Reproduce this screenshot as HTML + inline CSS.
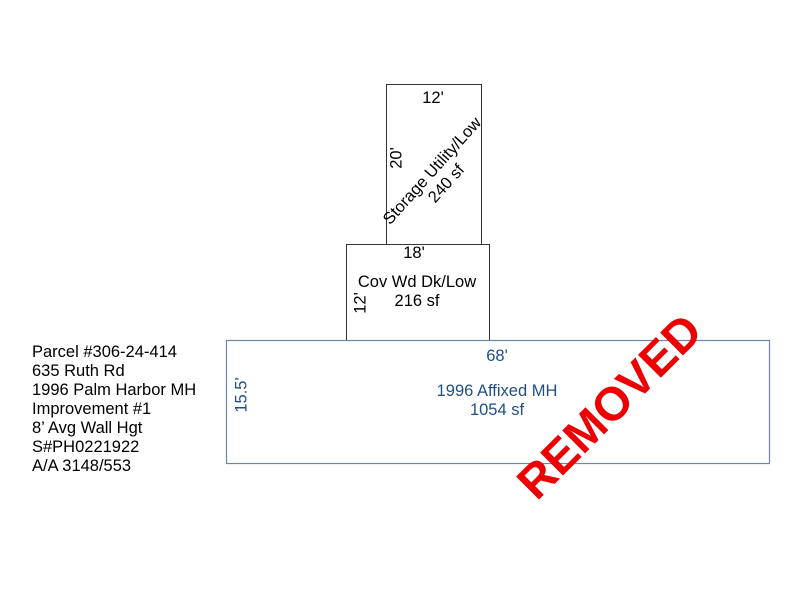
<!DOCTYPE html>
<html><head><style>html,body{margin:0;padding:0;background:#fff;}svg{display:block}</style></head>
<body>
<svg width="800" height="600" xmlns="http://www.w3.org/2000/svg" font-family="Liberation Sans, Arial, sans-serif">
<rect x="0" y="0" width="800" height="600" fill="#fff"/>
<rect x="386.5" y="84.5" width="95" height="160" fill="none" stroke="#333" stroke-width="1"/>
<rect x="346.5" y="244.5" width="143" height="96" fill="none" stroke="#333" stroke-width="1"/>
<rect x="226.5" y="340.5" width="543" height="123" fill="none" stroke="#6f86a6" stroke-width="1.2"/>
<g font-size="16.5" fill="#000">
<text x="433" y="103" text-anchor="middle">12'</text>
<text x="397" y="158" text-anchor="middle" transform="rotate(-90 397 158)" dominant-baseline="middle">20'</text>
<g transform="rotate(-48 439 177)">
<text x="439" y="173" text-anchor="middle">Storage Utility/Low</text>
<text x="439" y="192" text-anchor="middle">240 sf</text>
</g>
<text x="414" y="258" text-anchor="middle">18'</text>
<text x="417" y="287" text-anchor="middle">Cov Wd Dk/Low</text>
<text x="417" y="306" text-anchor="middle">216 sf</text>
<text x="361" y="303" text-anchor="middle" transform="rotate(-90 361 303)" dominant-baseline="middle">12'</text>
</g>
<g font-size="16.5" fill="#1f4e8c">
<text x="497" y="361" text-anchor="middle">68'</text>
<text x="497" y="396" text-anchor="middle">1996 Affixed MH</text>
<text x="497" y="415" text-anchor="middle">1054 sf</text>
<text x="242" y="395" text-anchor="middle" transform="rotate(-90 242 395)" dominant-baseline="middle">15.5'</text>
</g>
<g font-size="16.5" fill="#000">
<text x="32" y="357">Parcel #306-24-414</text>
<text x="32" y="376">635 Ruth Rd</text>
<text x="32" y="395">1996 Palm Harbor MH</text>
<text x="32" y="414">Improvement #1</text>
<text x="32" y="433">8’ Avg Wall Hgt</text>
<text x="32" y="452">S#PH0221922</text>
<text x="32" y="471">A/A 3148/553</text>
</g>
<text x="612" y="409" text-anchor="middle" dominant-baseline="middle" font-size="47" font-weight="bold" fill="#ee0000" transform="rotate(-45 612 409)">REMOVED</text>
</svg>
</body></html>
